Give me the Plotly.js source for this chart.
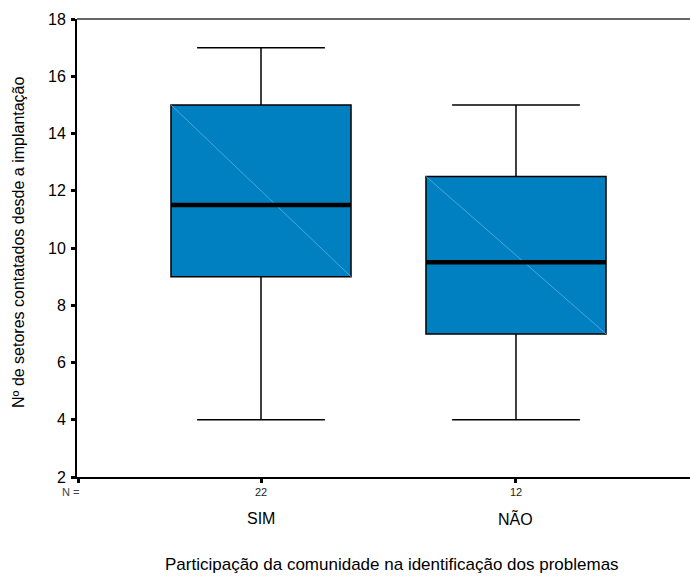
<!DOCTYPE html>
<html>
<head>
<meta charset="utf-8">
<script src="https://cdn.plot.ly/plotly-3.0.1.min.js"></script>
<style>html,body{margin:0;padding:0;background:#fff;}#chart{width:690px;height:576px;}</style>
</head>
<body>
<div id="chart"></div>
<script>
// Data
const categories = ["SIM", "NÃO"];
const nValues = [22, 12];
const lowerWhisker = [4, 4];
const q1 = [9, 7];
const median = [11.5, 9.5];
const q3 = [15, 12.5];
const upperWhisker = [17, 15];

const xPos = categories.map((c, i) => i);
const boxW = 0.706;
const font = "Liberation Sans, Arial, Helvetica, sans-serif";

const traces = [];
traces.push({
  type: "box",
  x: xPos,
  q1: q1,
  median: median,
  q3: q3,
  lowerfence: lowerWhisker,
  upperfence: upperWhisker,
  width: boxW,
  whiskerwidth: 0.71,
  fillcolor: "#0080C0",
  line: {color: "#000", width: 1.5},
  boxpoints: false,
  hoverinfo: "skip",
  showlegend: false
});
// diagonal hatch line inside each box (top-left to bottom-right)
xPos.forEach((x, i) => {
  traces.push({
    type: "scatter", mode: "lines",
    x: [x - boxW / 2, x + boxW / 2], y: [q3[i], q1[i]],
    line: {color: "#5BB0E6", width: 0.8},
    hoverinfo: "skip", showlegend: false
  });
});
// thick median lines
xPos.forEach((x, i) => {
  traces.push({
    type: "scatter", mode: "lines",
    x: [x - boxW / 2, x + boxW / 2], y: [median[i], median[i]],
    line: {color: "#000", width: 4.5},
    hoverinfo: "skip", showlegend: false
  });
});

const xMin = -0.7216, xMax = 1.6824;
const annotations = [];
annotations.push({
  xref: "x", yref: "paper", x: xMin, y: 0, yshift: -15, xshift: -7,
  text: "N =", showarrow: false, font: {family: font, size: 11, color: "#444"},
  xanchor: "center", yanchor: "middle"
});
xPos.forEach((x, i) => {
  annotations.push({
    xref: "x", yref: "paper", x: x, y: 0, yshift: -15,
    text: String(nValues[i]), showarrow: false, font: {family: font, size: 11, color: "#222"},
    xanchor: "center", yanchor: "middle"
  });
  annotations.push({
    xref: "x", yref: "paper", x: x, y: 0, yshift: -41,
    text: categories[i], showarrow: false, font: {family: font, size: 16, color: "#000"},
    xanchor: "center", yanchor: "middle"
  });
});
annotations.push({
  xref: "paper", yref: "paper", x: 0.514, y: 0, yshift: -87,
  text: "Participação da comunidade na identificação dos problemas", showarrow: false,
  font: {family: font, size: 17, color: "#000"}, xanchor: "center", yanchor: "middle"
});
annotations.push({
  xref: "paper", yref: "paper", x: 0, y: 0.511, xshift: -58,
  text: "Nº de setores contatados desde a implantação", showarrow: false, textangle: -90,
  font: {family: font, size: 16, color: "#000"}, xanchor: "center", yanchor: "middle"
});

const layout = {
  width: 690, height: 576,
  margin: {l: 77, r: 0, t: 19, b: 99, pad: 0},
  paper_bgcolor: "#fff", plot_bgcolor: "#fff",
  showlegend: false,
  font: {family: font, color: "#000"},
  xaxis: {
    range: [xMin, xMax], showgrid: false, zeroline: false,
    showline: true, linecolor: "#000", linewidth: 2,
    tickvals: [-0.715, 0, 1], ticks: "outside", ticklen: 4, tickwidth: 3, tickcolor: "#000",
    showticklabels: false, fixedrange: true
  },
  yaxis: {
    range: [2, 18], dtick: 2, tick0: 2, showgrid: false, zeroline: false,
    showline: true, linecolor: "#000", linewidth: 2,
    ticks: "outside", ticklen: 4, tickwidth: 3, tickcolor: "#000",
    tickfont: {family: font, size: 16, color: "#000"}, ticklabelstandoff: 2,
    fixedrange: true
  },
  shapes: [{
    type: "line", xref: "paper", yref: "paper", x0: 0, x1: 1, y0: 1, y1: 1,
    line: {color: "#333", width: 1.5}
  }],
  annotations: annotations
};

Plotly.newPlot("chart", traces, layout, {displayModeBar: false, staticPlot: true});
</script>
</body>
</html>
